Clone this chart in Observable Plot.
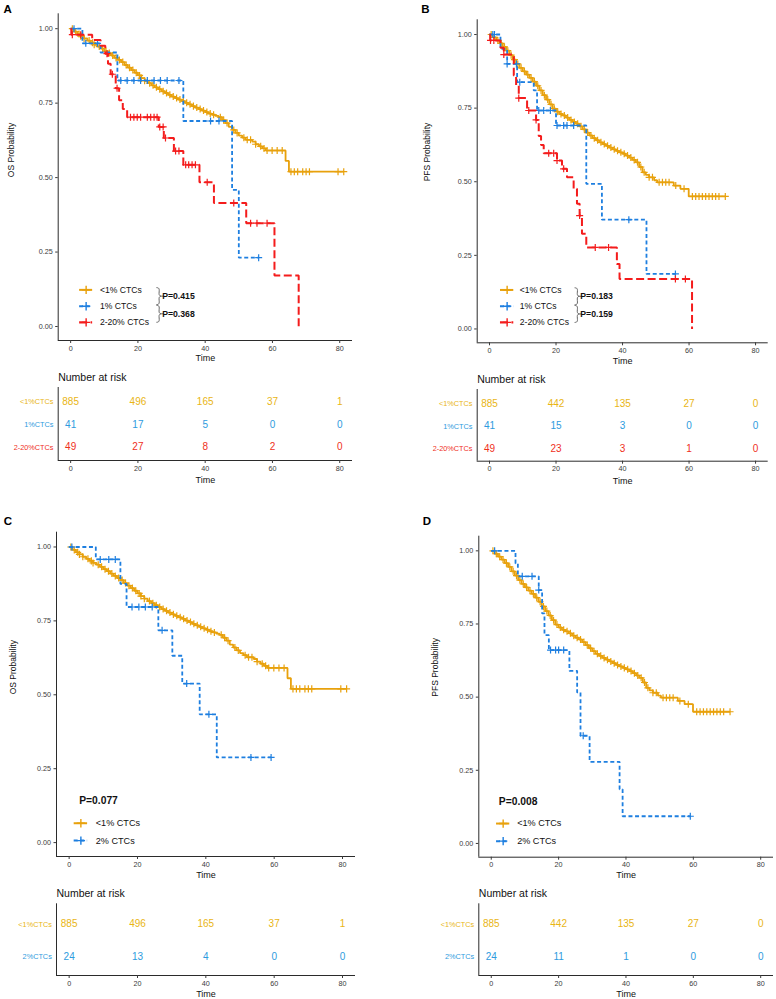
<!DOCTYPE html>
<html>
<head>
<meta charset="utf-8">
<script src="https://cdn.jsdelivr.net/npm/d3@7"></script>
<script src="https://cdn.jsdelivr.net/npm/@observablehq/plot@0.6"></script>
<style>
  body { margin: 0; background: #fff; }
  #fig { position: relative; width: 776px; height: 999px; background: #fff; }
  #fig > div { position: absolute; }
  #fig svg { overflow: visible; }
</style>
</head>
<body>
<div id="fig"></div>
<script>
// ---------- Data ----------
const TIME_TICKS = [0, 20, 40, 60, 80];
const PROB_TICKS = [0, 0.25, 0.5, 0.75, 1];

// Overall survival, <1% CTCs (panels A and C)
const os_lt1_time = [0,1,2,3,4,5,6,7,8,9,10,11,12,13,14,15,16,17,18,19,20,21,22,23,24,25,26,27,28,29,30,31,32,33,34,35,36,37,38,39,40,41,42,43,44,45,46,47,48,49,50,51,52,54,55,56,57,58,63.9,64.9];
const os_lt1_surv = [1,0.99,0.982,0.975,0.967,0.96,0.953,0.946,0.94,0.933,0.925,0.918,0.91,0.902,0.895,0.888,0.878,0.869,0.861,0.852,0.843,0.834,0.825,0.817,0.81,0.803,0.797,0.79,0.784,0.778,0.772,0.767,0.762,0.757,0.751,0.746,0.74,0.735,0.73,0.725,0.72,0.715,0.711,0.707,0.703,0.693,0.683,0.67,0.66,0.65,0.641,0.634,0.627,0.621,0.612,0.605,0.598,0.591,0.556,0.52];
const os_lt1_last = 81.2;
const os_lt1_censor = [0.5,1.5,2.5,3,4,5.5,6.5,7,8.5,9.5,10.5,11.5,12.5,13.5,14.5,15.5,16.5,17.5,18.5,19.5,20.5,21,22,23.5,24.5,25.5,26.5,27.5,28.5,29.5,30.5,31.5,32.5,33.5,34.5,35.5,36.5,37.5,38.5,39.5,40.5,41.5,42.5,44.5,45.5,46.5,48.5,49.5,51.5,52.5,53.5,55,56.5,57.5,58.4,59.9,61.4,62.9,65.5,66.5,67.5,69,70,71,79.5,81.2];

// Overall survival, 1% CTCs (panel A)
const os_1_time = [0,3.5,8.9,13.9,33.5,48,50];
const os_1_surv = [1,0.951,0.92,0.826,0.69,0.459,0.231];
const os_1_last = 55.9;
const os_1_censor = [1,4.5,8,14.9,16.8,18.8,20.8,22.8,24.8,26.7,28.7,32.2,41.6,44.1,55.9];

// Overall survival, 2-20% CTCs (panel A)
const os_2to20_time = [0,0.2,6.4,8.9,10.3,11.1,11.9,13.4,14.4,15.5,16.8,26.2,27.7,30.7,33.5,38.3,42.6,52.2,60.6,67.8];
const os_2to20_surv = [1,0.98,0.962,0.943,0.916,0.882,0.847,0.8,0.76,0.73,0.703,0.67,0.633,0.589,0.543,0.484,0.415,0.347,0.171,0];
const os_2to20_last = 67.8;
const os_2to20_censor = [0.5,3,10.8,12.4,13.8,17.8,18.8,19.8,20.8,22.8,23.8,24.8,25.7,26.5,27.5,28.2,31.2,32.2,34.2,35.1,36.1,37.1,40.6,48.5,53.5,55.4,58.4];

// Progression-free survival, <1% CTCs (panels B and D)
const pfs_lt1_time = [0,1,2,3,4,5,6,7,8,9,10,11,12,13,14,15,16,17,18,19,20,21,22,23,24,25,26,27,28,29,30,31,32,33,34,35,36,37,38,39,40,41,42,43,44,45,46,47,48,49.5,50.4,55.4,57.4,59.9];
const pfs_lt1_surv = [1,0.99,0.98,0.97,0.958,0.945,0.93,0.915,0.9,0.887,0.875,0.864,0.853,0.84,0.826,0.81,0.794,0.779,0.763,0.748,0.738,0.73,0.725,0.718,0.71,0.703,0.697,0.688,0.678,0.667,0.657,0.648,0.641,0.634,0.628,0.622,0.616,0.61,0.605,0.6,0.595,0.589,0.582,0.574,0.566,0.55,0.532,0.523,0.515,0.505,0.498,0.487,0.476,0.45];
const pfs_lt1_last = 70.9;
const pfs_lt1_censor = [0.5,1.5,2.5,3.5,4.5,5.5,6.5,7.5,8.5,9.5,10.5,11.5,12.5,13.5,14.5,15.5,16.5,17.5,18.5,19.5,20.5,21.5,22.5,23.5,24.5,25.5,26.5,27.5,28.5,29.5,30.5,31.5,32.5,33.5,34.5,35.5,36.5,37.5,38.5,39.5,40.5,41.5,42.5,43.5,44.5,45.5,46.5,48,49,51,52,53,54,56,58.5,61,62,63,64,65,66,67,68,69,70.9];

// Progression-free survival, 1% CTCs (panel B)
const pfs_1_time = [0,3.3,5.3,8.3,13.3,14.3,20,29.1,33.8,47.2];
const pfs_1_surv = [1,0.951,0.9,0.838,0.81,0.742,0.691,0.493,0.371,0.187];
const pfs_1_last = 55.9;
const pfs_1_censor = [1,1.5,5.3,8.1,9.1,14.8,16.3,18.3,20.3,22.3,23.3,25.3,41.9,55.9];

// Progression-free survival, 2-20% CTCs (panel B)
const pfs_2to20_time = [0,0.2,3.3,4.3,7.3,8,8.8,11.3,14,14.8,15.5,16.3,20.3,21.8,23.3,25.3,26.3,27.1,27.8,29.1,38.3,39.1,60.9];
const pfs_2to20_surv = [1,0.98,0.955,0.932,0.861,0.827,0.784,0.742,0.71,0.655,0.625,0.597,0.572,0.544,0.515,0.476,0.425,0.385,0.323,0.277,0.221,0.17,0];
const pfs_2to20_last = 60.9;
const pfs_2to20_censor = [0.3,1.3,4.3,8.8,11.8,14,17.8,19.3,20.3,22.3,27.1,31.8,35.8,55.9,58.9];

// Overall survival, 2% CTCs (panel C)
const os_2_time = [0,7.8,15,16.8,26.1,30.2,33.1,38.2,43.2];
const os_2_surv = [1,0.958,0.875,0.797,0.718,0.632,0.538,0.434,0.288];
const os_2_last = 59.1;
const os_2_censor = [0.8,9.1,11.6,13.5,18.4,20.4,22.3,24.3,27.2,34.4,40.9,53.2,59.1];

// Progression-free survival, 2% CTCs (panel D)
const pfs_2_time = [0,7.2,7.9,14.1,15.1,15.8,17.1,23.2,25.5,26.5,29.2,38.1,39];
const pfs_2_surv = [1,0.957,0.913,0.866,0.786,0.712,0.661,0.59,0.516,0.368,0.279,0.185,0.093];
const pfs_2_last = 59.1;
const pfs_2_censor = [1,9.2,12.1,14.1,17.6,19.1,20,21.5,27.3,59.1];

// Numbers at risk at TIME_TICKS
const riskA_lt1 = [885, 496, 165, 37, 1];
const riskA_1 = [41, 17, 5, 0, 0];
const riskA_2to20 = [49, 27, 8, 2, 0];
const riskB_lt1 = [885, 442, 135, 27, 0];
const riskB_1 = [41, 15, 3, 0, 0];
const riskB_2to20 = [49, 23, 3, 1, 0];
const riskC_lt1 = [885, 496, 165, 37, 1];
const riskC_2 = [24, 13, 4, 0, 0];
const riskD_lt1 = [885, 442, 135, 27, 0];
const riskD_2 = [24, 11, 1, 0, 0];

// Log-rank p-values
const pA = ["P=0.415", "P=0.368"];
const pB = ["P=0.183", "P=0.159"];
const pC = ["P=0.077"];
const pD = ["P=0.008"];

// ---------- Styles ----------
const FONT = '"Liberation Sans", Arial, Helvetica, sans-serif';
const AXIS = "#2b2b2b";
const TICKTXT = "#3a3a3a";
const STYLE = {
  lt1:   {line: "#E8A10C", text: "#E9B514", dash: undefined, width: 1.8, legend: "<1% CTCs",   row: "<1%CTCs"},
  one:   {line: "#1E7FE0", text: "#2E9BDE", dash: "4,2.6",   width: 1.8, legend: "1% CTCs",    row: "1%CTCs"},
  two20: {line: "#F41C1C", text: "#EF2F1C", dash: "8,3.5",   width: 2.0, legend: "2-20% CTCs", row: "2-20%CTCs"},
  two:   {line: "#1E7FE0", text: "#2E9BDE", dash: "4,2.6",   width: 1.8, legend: "2% CTCs",    row: "2%CTCs"}
};
const XDOM = [-3.7, 83.8];
const YDOM = [-0.047, 1.05];

// Outline of a curly brace in pixel offsets from its tip row (x right, y down)
const BRACE_SHAPE = [[0,-8.5],[1.6,-8.1],[2.4,-6.8],[2.4,-1.6],[3.2,-0.4],[4.2,0],[3.2,0.4],[2.4,1.6],[2.4,6.8],[1.6,8.1],[0,8.5]];
const BRACE_DASH = [[4.2,0],[6.4,0]];

// ---------- Helpers ----------
function stepRows(time, surv, last) {
  const rows = time.map((t, i) => ({t, s: surv[i]}));
  rows.push({t: last, s: surv[surv.length - 1]});
  return rows;
}
function censorRows(time, surv, cens) {
  return cens.map(c => {
    let s = surv[0];
    for (let i = 0; i < time.length; i++) if (time[i] <= c) s = surv[i];
    return {t: c, s};
  });
}
function place(el, box) {
  const d = document.createElement("div");
  d.style.left = box.left + "px";
  d.style.top = box.top + "px";
  d.style.width = box.w + "px";
  d.style.height = box.h + "px";
  d.appendChild(el);
  document.getElementById("fig").appendChild(d);
}

// Kaplan-Meier panel
function kmPanel(p) {
  const {box, frame} = p;
  const kx = (frame.x1 - frame.x0) / (XDOM[1] - XDOM[0]);   // px per month
  const ky = (frame.y1 - frame.y0) / (YDOM[1] - YDOM[0]);   // px per unit probability
  const marks = [
    Plot.ruleX([XDOM[0]], {stroke: AXIS, strokeWidth: 1}),
    Plot.ruleY([YDOM[0]], {stroke: AXIS, strokeWidth: 1}),
    Plot.axisX({ticks: TIME_TICKS, tickSize: 3, tickPadding: 2, fontSize: 7.2, color: TICKTXT, label: null}),
    Plot.axisY({ticks: PROB_TICKS, tickFormat: d3.format(".2f"), tickSize: 2.5, tickPadding: 3, fontSize: 7.2, color: TICKTXT, label: null})
  ];
  for (const s of p.series) {
    const st = STYLE[s.key];
    marks.push(Plot.line(stepRows(s.time, s.surv, s.last), {
      x: "t", y: "s", curve: "step-after", stroke: st.line, strokeWidth: st.width,
      strokeDasharray: st.dash, strokeLinecap: "butt", strokeLinejoin: "miter"
    }));
    marks.push(Plot.dot(censorRows(s.time, s.surv, s.censor), {
      x: "t", y: "s", symbol: "plus", r: 2.4, stroke: st.line, strokeWidth: 1.2
    }));
  }
  // legend
  const lg = p.legend;
  p.series.forEach((s, i) => {
    const st = STYLE[s.key];
    marks.push(Plot.ruleY([lg.rows[i]], {x1: lg.key[0], x2: lg.key[1], stroke: st.line, strokeWidth: st.width + 0.2, strokeDasharray: st.dash}));
    marks.push(Plot.dot([{t: (lg.key[0] + lg.key[1]) / 2, s: lg.rows[i]}], {x: "t", y: "s", symbol: "plus", r: 2.8, stroke: st.line, strokeWidth: 1.4}));
    marks.push(Plot.text([st.legend], {x: lg.textX, y: lg.rows[i], textAnchor: "start", lineAnchor: "middle", fontSize: lg.size, fill: "#111"}));
  });
  // p-values (with braces grouping the compared strata)
  if (p.pvals.length === 2) {
    p.pvals.forEach((pv, i) => {
      const yc = lg.pRows[i];
      const pts = BRACE_SHAPE.map(([dx, dy]) => ({t: lg.braceX + dx / kx, s: yc - dy / ky}));
      const dash = BRACE_DASH.map(([dx, dy]) => ({t: lg.braceX + dx / kx, s: yc - dy / ky}));
      marks.push(Plot.line(pts, {x: "t", y: "s", stroke: "#555", strokeWidth: 0.9, curve: "catmull-rom"}));
      marks.push(Plot.line(dash, {x: "t", y: "s", stroke: "#555", strokeWidth: 0.9}));
      marks.push(Plot.text([pv], {x: lg.pX, y: yc, textAnchor: "start", lineAnchor: "middle", fontSize: 8.7, fontWeight: "bold", fill: "#111"}));
    });
  } else {
    marks.push(Plot.text(p.pvals, {x: lg.pX, y: lg.pRows[0], textAnchor: "start", lineAnchor: "middle", fontSize: 10.3, fontWeight: "bold", fill: "#111"}));
  }
  // titles
  marks.push(Plot.text(["Time"], {frameAnchor: "bottom", lineAnchor: "middle", dy: p.timeDy, fontSize: 9, fill: "#111"}));
  marks.push(Plot.text([p.ylab], {frameAnchor: "left", lineAnchor: "middle", rotate: -90, dx: p.ylabDx, fontSize: 8.5, fill: "#111"}));
  marks.push(Plot.text([p.letter], {frameAnchor: "top-left", dx: p.letterDx, dy: p.letterDy, textAnchor: "start", lineAnchor: "top", fontSize: 11.5, fontWeight: "bold", fill: "#000"}));

  return Plot.plot({
    width: box.w, height: box.h,
    marginLeft: frame.x0 - box.left, marginRight: box.left + box.w - frame.x1,
    marginTop: frame.y0 - box.top, marginBottom: box.top + box.h - frame.y1,
    x: {domain: XDOM},
    y: {domain: YDOM},
    style: {fontFamily: FONT, background: "transparent", overflow: "visible"},
    marks
  });
}

// Number-at-risk table
function riskPanel(p) {
  const {box, frame, rowsY} = p;
  const step = rowsY[1] - rowsY[0];
  const yTop = (frame.y0 - rowsY[0]) / step;
  const yBot = (frame.y1 - rowsY[0]) / step;
  const marks = [
    Plot.ruleX([XDOM[0]], {stroke: AXIS, strokeWidth: 1}),
    Plot.ruleY([yBot], {stroke: AXIS, strokeWidth: 1}),
    Plot.axisX({ticks: TIME_TICKS, tickSize: 3, tickPadding: 2, fontSize: 7.2, color: TICKTXT, label: null}),
    Plot.text(["Number at risk"], {frameAnchor: "top-left", lineAnchor: "middle", dy: p.titleY - frame.y0, textAnchor: "start", fontSize: 10.5, fill: "#111"}),
    Plot.text(["Time"], {frameAnchor: "bottom", lineAnchor: "middle", dy: p.timeDy, fontSize: 9, fill: "#111"})
  ];
  p.rows.forEach((r, i) => {
    const st = STYLE[r.key];
    marks.push(Plot.text(r.n.map((n, j) => ({t: TIME_TICKS[j], i, n})), {x: "t", y: "i", text: "n", lineAnchor: "middle", fontSize: 10, fill: st.text}));
    marks.push(Plot.text([{i}], {y: "i", frameAnchor: "left", dx: p.labelDx, text: () => st.row, textAnchor: "end", lineAnchor: "middle", fontSize: 7.3, fill: st.text}));
  });
  return Plot.plot({
    width: box.w, height: box.h,
    marginLeft: frame.x0 - box.left, marginRight: box.left + box.w - frame.x1,
    marginTop: frame.y0 - box.top, marginBottom: box.top + box.h - frame.y1,
    x: {domain: XDOM},
    y: {domain: [yTop, yBot], reverse: true, axis: null},
    style: {fontFamily: FONT, background: "transparent", overflow: "visible"},
    marks
  });
}

// ---------- Panels ----------
const boxA = {left: 0, top: 0, w: 388, h: 367};
place(kmPanel({
  box: boxA, frame: {x0: 57.7, x1: 352, y0: 13.3, y1: 340},
  series: [
    {key: "lt1", time: os_lt1_time, surv: os_lt1_surv, last: os_lt1_last, censor: os_lt1_censor},
    {key: "one", time: os_1_time, surv: os_1_surv, last: os_1_last, censor: os_1_censor},
    {key: "two20", time: os_2to20_time, surv: os_2to20_surv, last: os_2to20_last, censor: os_2to20_censor}
  ],
  legend: {key: [2.67, 6.54], rows: [0.123, 0.068, 0.014], textX: 8.7, size: 8.6, braceX: 25.6, pX: 27.2, pRows: [0.102, 0.0427]},
  pvals: pA, ylab: "OS Probability", letter: "A",
  timeDy: 18, ylabDx: -46.7, letterDx: -54.7, letterDy: -9.3
}), boxA);

const boxB = {left: 388, top: 0, w: 388, h: 367};
place(kmPanel({
  box: boxB, frame: {x0: 476.7, x1: 767.7, y0: 19.3, y1: 342.3},
  series: [
    {key: "lt1", time: pfs_lt1_time, surv: pfs_lt1_surv, last: pfs_lt1_last, censor: pfs_lt1_censor},
    {key: "one", time: pfs_1_time, surv: pfs_1_surv, last: pfs_1_last, censor: pfs_1_censor},
    {key: "two20", time: pfs_2to20_time, surv: pfs_2to20_surv, last: pfs_2to20_last, censor: pfs_2to20_censor}
  ],
  legend: {key: [3.3, 7.3], rows: [0.1325, 0.077, 0.0224], textX: 9.1, size: 8.6, braceX: 25.7, pX: 27.3, pRows: [0.111, 0.051]},
  pvals: pB, ylab: "PFS Probability", letter: "B",
  timeDy: 18.4, ylabDx: -50, letterDx: -56, letterDy: -15.3
}), boxB);

const boxC = {left: 0, top: 500, w: 388, h: 380};
place(kmPanel({
  box: boxC, frame: {x0: 56, x1: 355, y0: 531.7, y1: 856},
  series: [
    {key: "lt1", time: os_lt1_time, surv: os_lt1_surv, last: os_lt1_last, censor: os_lt1_censor},
    {key: "two", time: os_2_time, surv: os_2_surv, last: os_2_last, censor: os_2_censor}
  ],
  legend: {key: [1.47, 5.4], rows: [0.0655, 0.0068], textX: 7.8, size: 9.1, pX: 2.94, pRows: [0.141]},
  pvals: pC, ylab: "OS Probability", letter: "C",
  timeDy: 18.3, ylabDx: -43.3, letterDx: -52.7, letterDy: -15
}), boxC);

const boxD = {left: 388, top: 500, w: 388, h: 380};
place(kmPanel({
  box: boxD, frame: {x0: 478.3, x1: 773, y0: 535.7, y1: 856.7},
  series: [
    {key: "lt1", time: pfs_lt1_time, surv: pfs_lt1_surv, last: pfs_lt1_last, censor: pfs_lt1_censor},
    {key: "two", time: pfs_2_time, surv: pfs_2_surv, last: pfs_2_last, censor: pfs_2_censor}
  ],
  legend: {key: [1.57, 5.5], rows: [0.068, 0.0078], textX: 7.7, size: 9.1, pX: 2.25, pRows: [0.144]},
  pvals: pD, ylab: "PFS Probability", letter: "D",
  timeDy: 18, ylabDx: -44, letterDx: -56, letterDy: -19
}), boxD);

// Risk tables
const rboxA = {left: 0, top: 367, w: 388, h: 125};
place(riskPanel({
  box: rboxA, frame: {x0: 57.7, x1: 352, y0: 387, y1: 460}, rowsY: [401.3, 424, 446.7],
  titleY: 377, timeDy: 19.5, labelDx: -4.7,
  rows: [{key: "lt1", n: riskA_lt1}, {key: "one", n: riskA_1}, {key: "two20", n: riskA_2to20}]
}), rboxA);

const rboxB = {left: 388, top: 367, w: 388, h: 125};
place(riskPanel({
  box: rboxB, frame: {x0: 476.7, x1: 767.7, y0: 389, y1: 460.7}, rowsY: [403, 425.7, 448.3],
  titleY: 378.7, timeDy: 19.5, labelDx: -4.7,
  rows: [{key: "lt1", n: riskB_lt1}, {key: "one", n: riskB_1}, {key: "two20", n: riskB_2to20}]
}), rboxB);

const rboxC = {left: 0, top: 880, w: 388, h: 119};
place(riskPanel({
  box: rboxC, frame: {x0: 56, x1: 355, y0: 903.3, y1: 975}, rowsY: [923.7, 956],
  titleY: 892.7, timeDy: 19, labelDx: -4.7,
  rows: [{key: "lt1", n: riskC_lt1}, {key: "two", n: riskC_2}]
}), rboxC);

const rboxD = {left: 388, top: 880, w: 388, h: 119};
place(riskPanel({
  box: rboxD, frame: {x0: 478.3, x1: 773, y0: 903.3, y1: 975}, rowsY: [923.7, 956],
  titleY: 893.3, timeDy: 18.5, labelDx: -4.7,
  rows: [{key: "lt1", n: riskD_lt1}, {key: "two", n: riskD_2}]
}), rboxD);
</script>
</body>
</html>
